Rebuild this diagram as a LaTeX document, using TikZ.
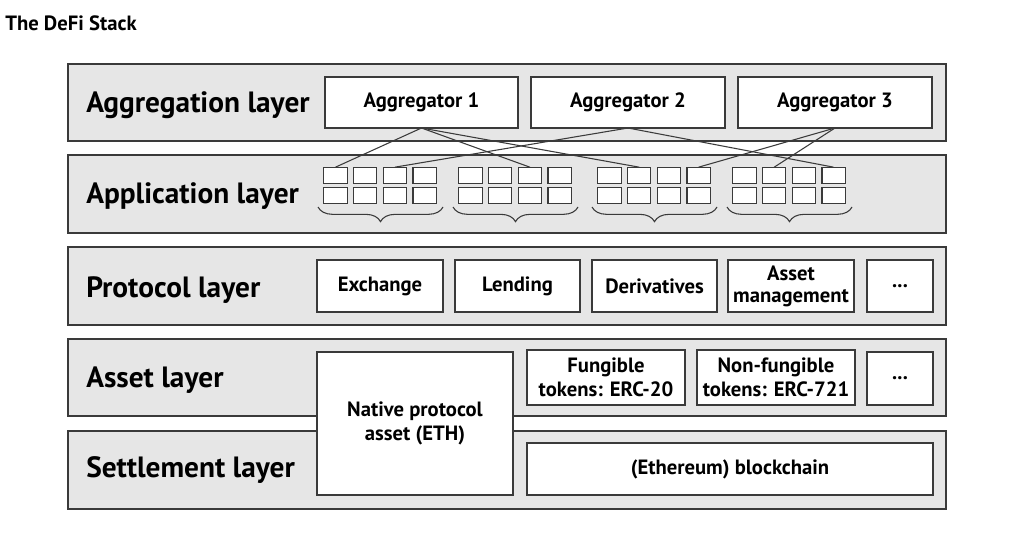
\documentclass[tikz,border=0pt]{standalone}
\usepackage{fontspec}
\setmainfont{PT Sans}
\usetikzlibrary{decorations.pathreplacing}
\definecolor{layerfill}{HTML}{E6E6E6}
\definecolor{edge}{HTML}{3A3A3A}
\newcommand\rnode[6][]{\node[#1, minimum width={(#4-#2)*0.75pt}, minimum height={(#5-#3)*0.75pt}] (#6) at ({(#2+#4)/2},{(#3+#5)/2})}
\tikzset{
  base/.style={draw=edge, line width=1.1pt, inner sep=0pt, outer sep=0pt, align=center},
  layer/.style={base, fill=layerfill},
  wbox/.style={base, fill=white, font=\bfseries\fontsize{15.5}{18}\selectfont},
  cell/.style={base, fill=white, line width=0.9pt, minimum width=17.5pt, minimum height=12.5pt},
  lab/.style={anchor=west, font=\bfseries\fontsize{22}{24}\selectfont, inner sep=0pt},
  link/.style={draw=edge, line width=0.8pt},
  grpbrace/.style={draw=edge, line width=0.8pt, decorate, decoration={brace, mirror, amplitude=11pt}}
}
\begin{document}
\begin{tikzpicture}[x=0.75pt, y=-0.75pt]
\useasboundingbox (0,0) rectangle (1024,532);
\node[anchor=west, inner sep=0pt, font=\bfseries\fontsize{15.5}{17}\selectfont] (title) at (5,23) {The DeFi Stack};
% layers
\rnode[layer]{68}{64}{946}{141}{agg} {};
\rnode[layer]{68}{155}{946}{233}{app} {};
\rnode[layer]{68}{247}{946}{325}{prot} {};
\rnode[layer]{68}{339}{946}{416}{asset} {};
\rnode[layer]{68}{431}{946}{509}{settle} {};
\node[lab] (laba) at (86,105) {Aggregation layer};
\node[lab] (labb) at (86,196) {Application layer};
\node[lab] (labc) at (86,290) {Protocol layer};
\node[lab] (labd) at (86,380) {Asset layer};
\node[lab] (labe) at (86,470) {Settlement layer};
% aggregators
\rnode[wbox]{325}{77}{518}{128}{a1} {Aggregator 1};
\rnode[wbox]{531}{77}{725}{128}{a2} {Aggregator 2};
\rnode[wbox]{738}{77}{932}{128}{a3} {Aggregator 3};
% application cells
\foreach \g/\gx in {1/324,2/459,3/598,4/733}{
  \foreach \b in {1,2,3,4}{
    \node[cell] (g\g b\b r1) at ({\gx+11.5+(\b-1)*29.7},175.5) {};
    \node[cell] (g\g b\b r2) at ({\gx+11.5+(\b-1)*29.7},195.5) {};
  }
  \coordinate (bl\g) at ({\gx-6},207);
  \coordinate (br\g) at ({\gx+119},207);
  \draw[grpbrace] (bl\g) -- (br\g);
}
% links
\draw[link] (a1.south) -- (g1b1r1.north);
\draw[link] (a1.south) -- (g2b3r1.north);
\draw[link] (a1.south) -- (g3b2r1.north);
\draw[link] (a2.south) -- (g1b3r1.north);
\draw[link] (a2.south) -- (g4b4r1.north);
\draw[link] (a3.south) -- (g3b4r1.north);
\draw[link] (a3.south) -- (g4b2r1.north);
% protocol
\rnode[wbox]{317}{260}{443}{312}{ex} {Exchange};
\rnode[wbox]{455}{260}{580}{312}{le} {Lending};
\rnode[wbox]{592}{260}{717}{312}{de} {Derivatives};
\rnode[wbox]{728}{260}{854}{312}{am} {Asset\\[-1.5pt]management};
\rnode[wbox]{867}{260}{933}{312}{pd} {...};
% asset
\rnode[wbox]{317}{352}{513}{495}{na} {Native protocol\\asset (ETH)};
\rnode[wbox]{527}{350}{685}{405}{fu} {Fungible\\tokens: ERC-20};
\rnode[wbox]{697}{350}{855}{405}{nf} {Non-fungible\\tokens: ERC-721};
\rnode[wbox]{867}{352}{933}{405}{ad} {...};
% settlement
\rnode[wbox]{527}{443}{933}{495}{bc} {(Ethereum) blockchain};
\end{tikzpicture}
\end{document}
